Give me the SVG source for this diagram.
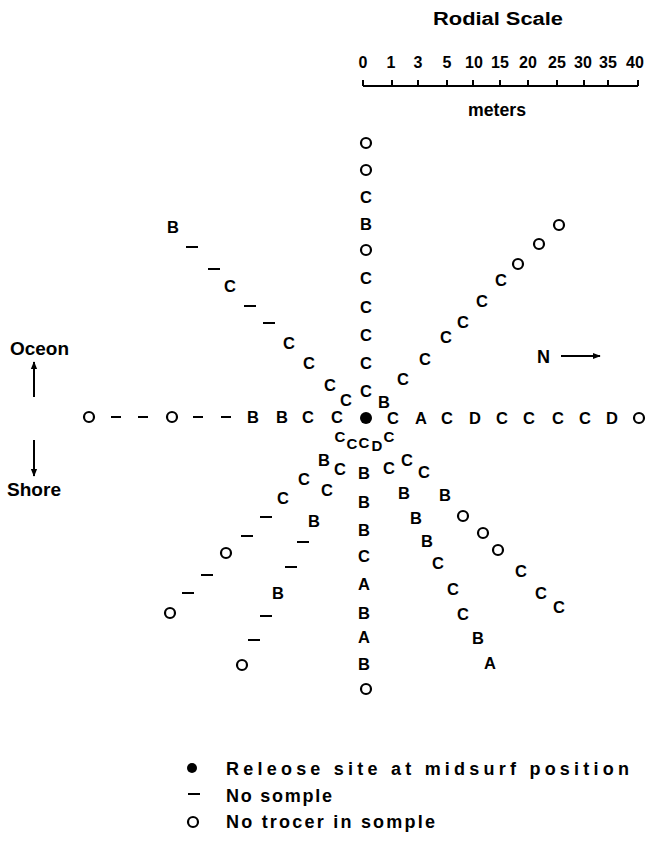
<svg xmlns="http://www.w3.org/2000/svg" xmlns:xlink="http://www.w3.org/1999/xlink" width="651" height="843" viewBox="0 0 651 843">
  <style>
    text { font-family: "Liberation Sans", Arial, sans-serif; fill: #000; }
    .m { font-size: 16.5px; font-weight: bold; text-anchor: middle; }
    .s { font-size: 15px; }
    .lab { font-size: 18px; font-weight: bold; }
    .num { font-size: 16px; font-weight: bold; text-anchor: middle; }
    .leg { font-size: 18px; font-weight: bold; }
    .ring { fill: none; stroke: #000; stroke-width: 2.2; }
    .ln { stroke: #000; stroke-width: 2; fill: none; }
  </style>
  <defs>
    <circle id="o" r="5" class="ring"/>
    <line id="dash" x1="-6" y1="0" x2="6" y2="0" class="ln"/>
    <line id="sdash" x1="-5" y1="0" x2="5" y2="0" class="ln"/>
    <marker id="head" viewBox="0 0 10 10" refX="9" refY="5" markerWidth="8" markerHeight="8" markerUnits="userSpaceOnUse" orient="auto">
      <path d="M0,1 L10,5 L0,9 Z" fill="#000"/>
    </marker>
  </defs>

  <!-- radial scale -->
  <g id="scale">
    <text class="lab" x="433" y="25" textLength="130" lengthAdjust="spacingAndGlyphs">Rodial Scale</text>
    <g class="num">
      <text x="363" y="68">0</text>
      <text x="391" y="68">1</text>
      <text x="418" y="68">3</text>
      <text x="447" y="68">5</text>
      <text x="474" y="68">10</text>
      <text x="500" y="68">15</text>
      <text x="528" y="68">20</text>
      <text x="557" y="68">25</text>
      <text x="583" y="68">30</text>
      <text x="608" y="68">35</text>
      <text x="635" y="68">40</text>
    </g>
    <path class="ln" d="M363,86 H638 M363,80 V86 M392,80 V86 M418,80 V86 M447,80 V86 M473,80 V86 M500,80 V86 M528,80 V86 M557,80 V86 M584,80 V86 M608,80 V86 M638,80 V86"/>
    <text class="lab" x="468" y="116" textLength="58" lengthAdjust="spacingAndGlyphs">meters</text>
  </g>

  <!-- orientation arrows -->
  <g id="orientation">
    <text class="lab" x="10" y="355" textLength="59" lengthAdjust="spacingAndGlyphs">Oceon</text>
    <line class="ln" x1="34" y1="397" x2="34" y2="362" marker-end="url(#head)"/>
    <line class="ln" x1="34" y1="440" x2="34" y2="476" marker-end="url(#head)"/>
    <text class="lab" x="7" y="496" textLength="54" lengthAdjust="spacingAndGlyphs">Shore</text>
    <text class="lab" x="537" y="363">N</text>
    <line class="ln" x1="561" y1="356" x2="600" y2="356" marker-end="url(#head)"/>
  </g>

  <!-- release site -->
  <circle id="release" cx="366" cy="418" r="6" fill="#000"/>

  <!-- ray: up -->
  <g id="ray-up">
    <use xlink:href="#o" x="366" y="143"/>
    <use xlink:href="#o" x="366" y="170"/>
    <text class="m" x="366" y="203">C</text>
    <text class="m" x="366" y="230">B</text>
    <use xlink:href="#o" x="366" y="250"/>
    <text class="m" x="366" y="284">C</text>
    <text class="m" x="366" y="313">C</text>
    <text class="m" x="366" y="341">C</text>
    <text class="m" x="366" y="369">C</text>
    <text class="m" x="366" y="397">C</text>
  </g>

  <!-- ray: upper left -->
  <g id="ray-upper-left">
    <text class="m" x="173" y="233">B</text>
    <use xlink:href="#dash" x="192" y="247"/>
    <use xlink:href="#dash" x="214" y="269"/>
    <text class="m" x="230" y="292">C</text>
    <use xlink:href="#dash" x="250" y="306"/>
    <use xlink:href="#dash" x="269" y="323"/>
    <text class="m" x="289" y="349">C</text>
    <text class="m" x="309" y="369">C</text>
    <text class="m" x="330" y="391">C</text>
    <text class="m" x="346" y="406">C</text>
  </g>

  <!-- ray: left -->
  <g id="ray-left">
    <use xlink:href="#o" x="89" y="417"/>
    <use xlink:href="#sdash" x="116" y="417"/>
    <use xlink:href="#sdash" x="143" y="417"/>
    <use xlink:href="#o" x="172" y="417"/>
    <use xlink:href="#sdash" x="198" y="417"/>
    <use xlink:href="#sdash" x="226" y="417"/>
    <text class="m" x="253" y="423">B</text>
    <text class="m" x="282" y="423">B</text>
    <text class="m" x="308" y="423">C</text>
    <text class="m" x="337" y="423">C</text>
  </g>

  <!-- ray: right -->
  <g id="ray-right">
    <text class="m" x="393" y="424">C</text>
    <text class="m" x="421" y="424">A</text>
    <text class="m" x="447" y="424">C</text>
    <text class="m" x="475" y="424">D</text>
    <text class="m" x="502" y="424">C</text>
    <text class="m" x="529" y="424">C</text>
    <text class="m" x="558" y="424">C</text>
    <text class="m" x="585" y="424">C</text>
    <text class="m" x="612" y="424">D</text>
    <use xlink:href="#o" x="639" y="418"/>
  </g>

  <!-- ray: upper right -->
  <g id="ray-upper-right">
    <text class="m" x="384" y="408">B</text>
    <text class="m" x="403" y="385">C</text>
    <text class="m" x="425" y="365">C</text>
    <text class="m" x="446" y="343">C</text>
    <text class="m" x="463" y="328">C</text>
    <text class="m" x="482" y="307">C</text>
    <text class="m" x="501" y="286">C</text>
    <use xlink:href="#o" x="518" y="264"/>
    <use xlink:href="#o" x="539" y="244"/>
    <use xlink:href="#o" x="559" y="225"/>
  </g>

  <!-- ray: lower right, shallow -->
  <g id="ray-lower-right-a">
    <text class="m s" x="389" y="442">C</text>
    <text class="m" x="407" y="466">C</text>
    <text class="m" x="424" y="478">C</text>
    <text class="m" x="445" y="501">B</text>
    <use xlink:href="#o" x="463" y="516"/>
    <use xlink:href="#o" x="483" y="533"/>
    <use xlink:href="#o" x="498" y="550"/>
    <text class="m" x="521" y="577">C</text>
    <text class="m" x="541" y="599">C</text>
    <text class="m" x="559" y="613">C</text>
  </g>

  <!-- ray: lower right, steep -->
  <g id="ray-lower-right-b">
    <text class="m s" x="377" y="451">D</text>
    <text class="m" x="389" y="474">C</text>
    <text class="m" x="404" y="499">B</text>
    <text class="m" x="416" y="524">B</text>
    <text class="m" x="427" y="547">B</text>
    <text class="m" x="438" y="569">C</text>
    <text class="m" x="453" y="595">C</text>
    <text class="m" x="463" y="620">C</text>
    <text class="m" x="478" y="644">B</text>
    <text class="m" x="490" y="669">A</text>
  </g>

  <!-- ray: down -->
  <g id="ray-down">
    <text class="m s" x="364" y="448">C</text>
    <text class="m" x="364" y="479">B</text>
    <text class="m" x="364" y="508">B</text>
    <text class="m" x="364" y="536">B</text>
    <text class="m" x="364" y="562">C</text>
    <text class="m" x="364" y="590">A</text>
    <text class="m" x="364" y="619">B</text>
    <text class="m" x="364" y="643">A</text>
    <text class="m" x="364" y="670">B</text>
    <use xlink:href="#o" x="366" y="689"/>
  </g>

  <!-- ray: lower left, steep -->
  <g id="ray-lower-left-b">
    <text class="m s" x="352" y="449">C</text>
    <text class="m" x="340" y="475">C</text>
    <text class="m" x="327" y="496">C</text>
    <text class="m" x="314" y="527">B</text>
    <use xlink:href="#dash" x="303" y="542"/>
    <use xlink:href="#dash" x="291" y="567"/>
    <text class="m" x="278" y="599">B</text>
    <use xlink:href="#dash" x="266" y="616"/>
    <use xlink:href="#dash" x="254" y="640"/>
    <use xlink:href="#o" x="242" y="665"/>
  </g>

  <!-- ray: lower left, shallow -->
  <g id="ray-lower-left-a">
    <text class="m s" x="340" y="442">C</text>
    <text class="m" x="324" y="466">B</text>
    <text class="m" x="304" y="485">C</text>
    <text class="m" x="283" y="504">C</text>
    <use xlink:href="#dash" x="266" y="517"/>
    <use xlink:href="#dash" x="247" y="536"/>
    <use xlink:href="#o" x="226" y="553"/>
    <use xlink:href="#dash" x="207" y="575"/>
    <use xlink:href="#dash" x="188" y="593"/>
    <use xlink:href="#o" x="170" y="613"/>
  </g>

  <!-- legend -->
  <g id="legend">
    <circle cx="192" cy="768" r="5" fill="#000"/>
    <text class="leg" x="226" y="775" textLength="403" lengthAdjust="spacing">Releose site at midsurf position</text>
    <line class="ln" x1="188" y1="794" x2="200" y2="794"/>
    <text class="leg" x="226" y="802" textLength="106" lengthAdjust="spacing">No somple</text>
    <use xlink:href="#o" x="193" y="822"/>
    <text class="leg" x="226" y="828" textLength="209" lengthAdjust="spacing">No trocer in somple</text>
  </g>
</svg>
